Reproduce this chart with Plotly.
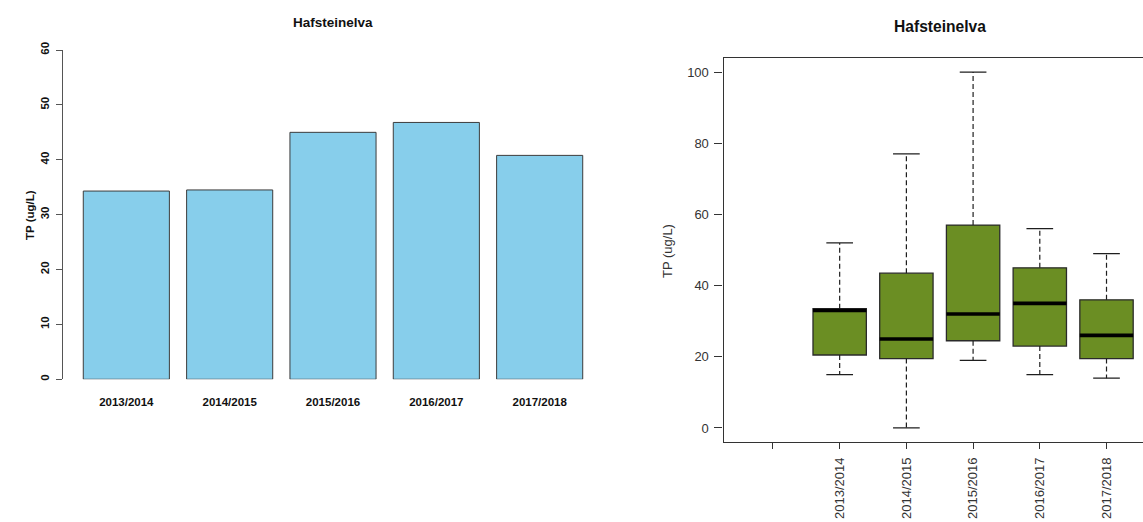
import plotly.graph_objects as go

# Station and units
station = "Hafsteinelva"
y_label = "TP (ug/L)"

# Winter seasons
seasons = ["2013/2014", "2014/2015", "2015/2016", "2016/2017", "2017/2018"]

# Mean total phosphorus per season (bar chart)
mean_tp = [34.3, 34.5, 45.0, 46.8, 40.8]

# Box-plot statistics per season
tp_min = [15, 0, 19, 15, 14]
tp_q1 = [20.5, 19.5, 24.5, 23, 19.5]
tp_median = [33, 25, 32, 35, 26]
tp_q3 = [33.5, 43.5, 57, 45, 36]
tp_max = [52, 77, 100, 56, 49]

# Axis tick values
bar_ticks = [0, 10, 20, 30, 40, 50, 60]
box_ticks = [0, 20, 40, 60, 80, 100]

W, H = 1143, 522
FONT = "Liberation Sans, Arial, sans-serif"


def px(x):
    return x / W


def py(y):
    return (H - y) / H


n = len(seasons)
bar_x = [0.7 + 1.2 * i for i in range(n)]      # barplot layout: width 1, space 0.2
box_x = [i + 2 for i in range(n)]              # first slot on the box axis is empty
box_tickvals = [1] + box_x
box_ticktext = [""] + seasons

fig = go.Figure()

# ---- left panel: seasonal means ----
fig.add_trace(go.Bar(
    x=bar_x, y=mean_tp, width=1.0,
    marker=dict(color="#87CEEB", line=dict(color="#3c3c3c", width=1)),
    xaxis="x", yaxis="y", showlegend=False,
))

# ---- right panel: box plots ----
# dashed whiskers
wx, wy = [], []
for xi, lo, q1, q3, hi in zip(box_x, tp_min, tp_q1, tp_q3, tp_max):
    wx += [xi, xi, None, xi, xi, None]
    wy += [q3, hi, None, q1, lo, None]
fig.add_trace(go.Scatter(
    x=wx, y=wy, mode="lines",
    line=dict(color="#1e1e1e", width=1.2, dash="5px,3px"),
    xaxis="x2", yaxis="y2", showlegend=False, hoverinfo="skip",
))
# whisker caps
cx, cy = [], []
for xi, lo, hi in zip(box_x, tp_min, tp_max):
    cx += [xi - 0.2, xi + 0.2, None, xi - 0.2, xi + 0.2, None]
    cy += [hi, hi, None, lo, lo, None]
fig.add_trace(go.Scatter(
    x=cx, y=cy, mode="lines",
    line=dict(color="#1e1e1e", width=1.3),
    xaxis="x2", yaxis="y2", showlegend=False, hoverinfo="skip",
))
# boxes (Q1 to Q3)
fig.add_trace(go.Bar(
    x=box_x, base=tp_q1, y=[b - a for a, b in zip(tp_q1, tp_q3)], width=0.8,
    marker=dict(color="#6B8E23", line=dict(color="#2a2a2a", width=1.3)),
    xaxis="x2", yaxis="y2", showlegend=False,
))
# medians
mx, my = [], []
for xi, med in zip(box_x, tp_median):
    mx += [xi - 0.4, xi + 0.4, None]
    my += [med, med, None]
fig.add_trace(go.Scatter(
    x=mx, y=my, mode="lines",
    line=dict(color="#000000", width=3.6),
    xaxis="x2", yaxis="y2", showlegend=False, hoverinfo="skip",
))

fig.update_layout(
    width=W, height=H,
    margin=dict(l=0, r=0, t=0, b=0, autoexpand=False),
    paper_bgcolor="white", plot_bgcolor="white",
    font=dict(family=FONT, color="#222"),
    barmode="overlay",
    xaxis=dict(
        domain=[px(63.3), px(602.7)], range=[-0.032, 6.232], automargin=False,
        showline=False, showgrid=False, zeroline=False,
        tickvals=bar_x, ticktext=seasons,
        ticks="outside", ticklen=12, tickcolor="rgba(0,0,0,0)",
        tickfont=dict(family=FONT, size=11.5, color="#111", weight="bold"),
    ),
    yaxis=dict(
        domain=[py(379.3), py(50)], range=[0, 60], anchor="x", automargin=False,
        showline=True, linecolor="#555", linewidth=1,
        showgrid=False, zeroline=False,
        tickvals=bar_ticks, ticks="outside", ticklen=6, tickcolor="#555",
        tickangle=-90, ticklabelstandoff=3,
        tickfont=dict(family=FONT, size=11.5, color="#111", weight="bold"),
    ),
    xaxis2=dict(
        domain=[px(723.6), 1.0], range=[0.26, 6.547], anchor="y2", automargin=False,
        showline=True, mirror=True, linecolor="#333", linewidth=1.3,
        showgrid=False, zeroline=False,
        tickvals=box_tickvals, ticktext=box_ticktext,
        ticks="outside", ticklen=6, tickcolor="#333", tickangle=-90,
        ticklabelstandoff=3,
        tickfont=dict(family=FONT, size=13, color="#333"),
    ),
    yaxis2=dict(
        domain=[py(442.2), py(57.8)], range=[-4, 104], anchor="x2", automargin=False,
        showline=True, linecolor="#333", linewidth=1.3,
        showgrid=False, zeroline=False,
        tickvals=box_ticks, ticks="outside", ticklen=8, tickcolor="#333",
        ticklabelstandoff=3,
        tickfont=dict(family=FONT, size=13, color="#333"),
    ),
    annotations=[
        dict(text=station, x=px(333), y=py(22.7), xref="paper", yref="paper",
             showarrow=False, xanchor="center", yanchor="middle",
             font=dict(family=FONT, size=13.5, color="#111", weight="bold")),
        dict(text=y_label, x=px(30), y=py(215), xref="paper", yref="paper",
             showarrow=False, xanchor="center", yanchor="middle", textangle=-90,
             font=dict(family=FONT, size=11.5, color="#111", weight="bold")),
        dict(text=station, x=px(940), y=py(27), xref="paper", yref="paper",
             showarrow=False, xanchor="center", yanchor="middle",
             font=dict(family=FONT, size=15.6, color="#111", weight="bold")),
        dict(text=y_label, x=px(668), y=py(251), xref="paper", yref="paper",
             showarrow=False, xanchor="center", yanchor="middle", textangle=-90,
             font=dict(family=FONT, size=13, color="#333")),
    ],
)

fig.write_html("out.html")
